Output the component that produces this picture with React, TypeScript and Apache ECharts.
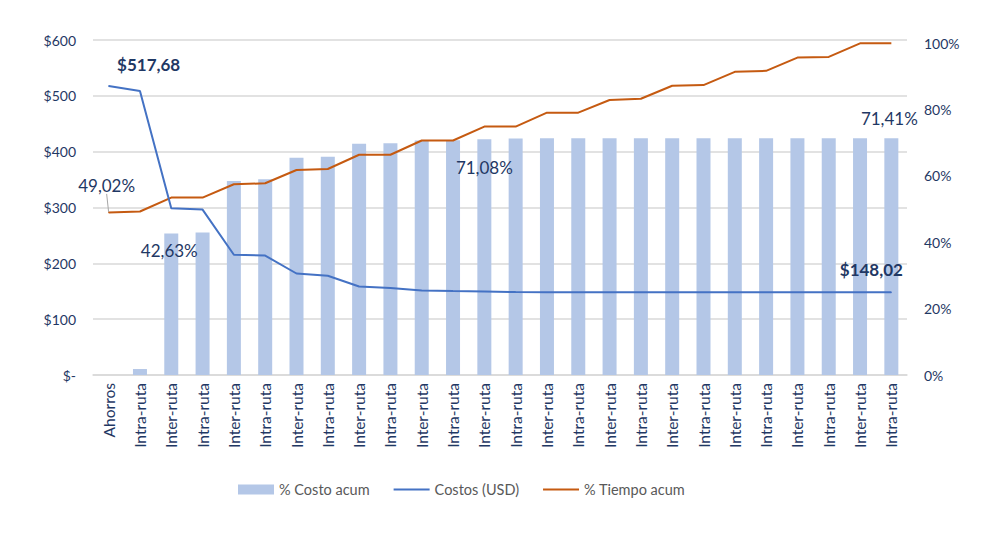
import React, { useEffect, useRef } from "react";
import * as echarts from "echarts";

const categories = [
  "Ahorros", "Intra-ruta", "Inter-ruta", "Intra-ruta", "Inter-ruta", "Intra-ruta",
  "Inter-ruta", "Intra-ruta", "Inter-ruta", "Intra-ruta", "Inter-ruta", "Intra-ruta",
  "Inter-ruta", "Intra-ruta", "Inter-ruta", "Intra-ruta", "Inter-ruta", "Intra-ruta",
  "Inter-ruta", "Intra-ruta", "Inter-ruta", "Intra-ruta", "Inter-ruta", "Intra-ruta",
  "Inter-ruta", "Intra-ruta",
];

// % Costo acum (bars, right axis, fraction)
const costoAcum = [
  0, 0.018, 0.4263, 0.430, 0.585, 0.590, 0.655, 0.658, 0.697, 0.699, 0.707, 0.708,
  0.7108, 0.713, 0.7135, 0.7138, 0.714, 0.7141, 0.7141, 0.7141, 0.7141, 0.7141,
  0.7141, 0.7141, 0.7141, 0.7141,
];

// Costos (USD) (line, left axis)
const costos = [
  517.68, 508.8, 298.8, 296.3, 215.3, 214.0, 181.8, 177.7, 158.5, 155.7, 151.4, 150.3,
  149.6, 148.5, 148.3, 148.2, 148.1, 148.05, 148.02, 148.02, 148.02, 148.02, 148.02,
  148.02, 148.02, 148.02,
];

// % Tiempo acum (line, right axis, fraction)
const tiempoAcum = [
  0.4902, 0.493, 0.535, 0.535, 0.575, 0.578, 0.618, 0.621, 0.664, 0.664, 0.707, 0.707,
  0.749, 0.749, 0.791, 0.791, 0.829, 0.833, 0.872, 0.874, 0.914, 0.917, 0.957, 0.959,
  1.0, 1.0,
];

const leftTicks = { min: 0, max: 600, interval: 100 };
const rightTicks = { min: 0, max: 1.01, interval: 0.2 };

const NAVY = "#1F3864";
const FONT = "Lato, 'Noto Sans', sans-serif";
const LINE_ICON = "path://M0,0L36,0L36,2.2L0,2.2Z";

export default function App() {
  const ref = useRef<HTMLDivElement>(null);
  useEffect(() => {
    if (!ref.current) return;
    const chart = echarts.init(ref.current, null, { renderer: "svg" });
    const pct = (v: number) => (v * 100).toFixed(2).replace(".", ",") + "%";
    const usd = (v: number) => "$" + v.toFixed(2).replace(".", ",");
    const last = categories.length - 1;

    const barData = costoAcum.map((v, i) => {
      if (i === 2) return { value: v, label: { show: true, position: "top", offset: [-2, 30], formatter: pct(v) } };
      if (i === 12) return { value: v, label: { show: true, position: "top", offset: [0, 42], formatter: pct(v) } };
      if (i === last) return { value: v, label: { show: true, position: "top", offset: [-2, -6], formatter: pct(v) } };
      return v;
    });
    const marker = { symbol: "circle", symbolSize: 1 };
    const costData = costos.map((v, i) => {
      if (i === 0) return { value: v, ...marker, label: { show: true, position: "top", offset: [40, -7], formatter: usd(v) } };
      if (i === last) return { value: v, ...marker, label: { show: true, position: "top", offset: [-20, -9], formatter: usd(v) } };
      return v;
    });
    const tiempoData = tiempoAcum.map((v, i) => {
      if (i === 0) return { value: v, ...marker, label: { show: true, position: "top", formatter: pct(v) } };
      return v;
    });

    chart.setOption({
      animation: false,
      backgroundColor: "#ffffff",
      textStyle: { fontFamily: FONT },
      grid: { left: 93, right: 88, top: 40, bottom: 164, containLabel: false },
      legend: {
        bottom: 37,
        left: 233,
        itemWidth: 36,
        itemHeight: 10,
        itemGap: 24,
        symbolKeepAspect: true,
        textStyle: { color: "#595959", fontSize: 14.5, fontFamily: FONT },
        data: [
          { name: "% Costo acum", icon: "rect" },
          { name: "Costos (USD)", icon: LINE_ICON },
          { name: "% Tiempo acum", icon: LINE_ICON },
        ],
      },
      xAxis: {
        type: "category",
        data: categories,
        axisTick: { show: false },
        axisLine: { show: true, lineStyle: { color: "#D9D9D9", width: 1.5 } },
        axisLabel: { rotate: 90, interval: 0, color: NAVY, fontSize: 15.5, margin: 8, fontFamily: FONT },
      },
      yAxis: [
        {
          type: "value",
          min: leftTicks.min,
          max: leftTicks.max,
          interval: leftTicks.interval,
          axisLine: { show: false },
          axisTick: { show: false },
          splitLine: { show: true, lineStyle: { color: "#D9D9D9", width: 1.5 } },
          axisLabel: {
            color: NAVY,
            fontSize: 14,
            margin: 17,
            fontFamily: FONT,
            formatter: (v: number) => (v === 0 ? "$-" : "$" + v),
          },
        },
        {
          type: "value",
          min: rightTicks.min,
          max: rightTicks.max,
          interval: rightTicks.interval,
          axisLine: { show: false },
          axisTick: { show: false },
          splitLine: { show: false },
          axisLabel: {
            color: NAVY,
            fontSize: 14,
            margin: 17,
            fontFamily: FONT,
            showMaxLabel: false,
            formatter: (v: number) => (v > 1.001 ? "" : Math.round(v * 100) + "%"),
          },
        },
      ],
      series: [
        {
          name: "% Costo acum",
          type: "bar",
          yAxisIndex: 1,
          barWidth: 14,
          itemStyle: { color: "#B4C7E7" },
          label: { color: NAVY, fontSize: 17, fontFamily: FONT },
          data: barData,
          z: 1,
        },
        {
          name: "Costos (USD)",
          type: "line",
          yAxisIndex: 0,
          symbol: "none",
          lineStyle: { color: "#4472C4", width: 2 },
          itemStyle: { color: "#4472C4" },
          label: { color: NAVY, fontSize: 17, fontWeight: "bold", fontFamily: FONT },
          data: costData,
          z: 3,
        },
        {
          name: "% Tiempo acum",
          type: "line",
          yAxisIndex: 1,
          symbol: "none",
          lineStyle: { color: "#C55A11", width: 2 },
          itemStyle: { color: "#C55A11" },
          label: { color: NAVY, fontSize: 17, fontFamily: FONT },
          labelLayout: (p: any) => (p.dataIndex === 0 ? { dx: -2, dy: -13 } : {}),
          labelLine: { show: true, lineStyle: { color: "#A6A6A6", width: 1 } },
          data: tiempoData,
          z: 2,
        },
      ],
    });
    return () => chart.dispose();
  }, []);
  return (
    <div
      ref={ref}
      style={{ position: "absolute", left: 0, top: 0, width: 995, height: 539 }}
    />
  );
}
